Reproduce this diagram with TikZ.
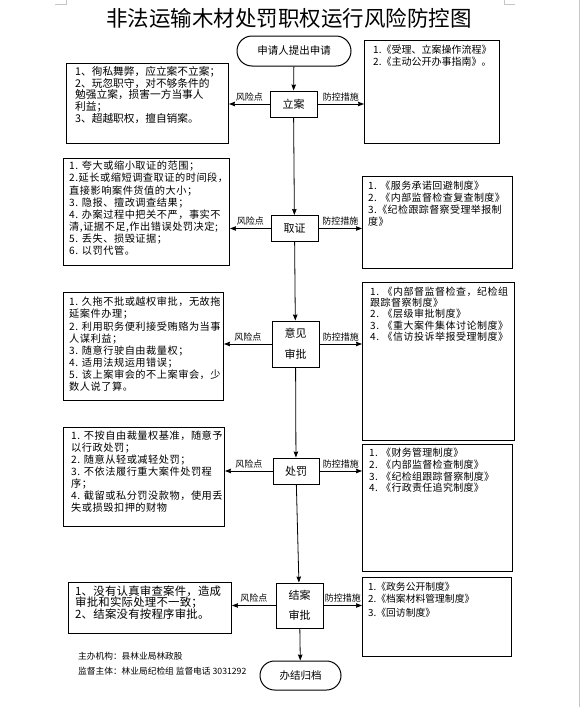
\documentclass[tikz,border=0pt]{standalone}
\usepackage{fontspec}
\setmainfont{Noto Sans CJK SC}
\usetikzlibrary{%
  arrows.meta,%
  shapes.misc%
}

\begin{document}
\begin{tikzpicture}[x=1pt,y=-1pt,
    flow/.style={draw,line width=1pt,minimum width=47pt,minimum height=26pt,
      inner sep=1pt,align=center,font=\fontsize{11}{20.5}\selectfont},
    term/.style={draw,line width=1pt,rounded rectangle,inner sep=1pt,
      font=\fontsize{10.5}{12}\selectfont},
    frame/.style={draw,line width=1pt,anchor=north west,inner sep=0pt},
    note/.style={anchor=north west,align=left,inner sep=0pt},
    spread/.style={execute at begin node={\addfontfeature{LetterSpace=#1}}},
    link/.style={-{Stealth[length=6pt,width=4.5pt,inset=0.6pt]},line width=0.8pt},
    tag/.style={above,inner sep=2.5pt,font=\fontsize{9}{9}\selectfont}
  ]
  \useasboundingbox (0,0) rectangle (583,707);
  % page marks
  \begin{scope}[gray!45,line width=0.8pt]
    \draw (579,0) -- (579,707);
    \draw (55,4) -- (66,4) -- (66,0);
    \draw (504,0) -- (504,4) -- (515,4);
  \end{scope}

  \node [font=\fontsize{21.5}{22}\selectfont] (title) at (289,18)
    {非法运输木材处罚职权运行风险防控图};

  % main flow
  \node [term,minimum width=116pt,minimum height=30pt] (start) at (294,51) {申请人提出申请};
  \node [flow] (lian) at (293.5,104) {立案};
  \node [flow] (quzheng) at (294.5,228.5) {取证};
  \node [flow,minimum height=46pt] (shenpi) at (295.5,344) {意见\\审批};
  \node [flow,minimum width=46pt] (chufa) at (296,471) {处罚};
  \node [flow,minimum height=45pt] (jiean) at (299.5,605.5) {结案\\审批};
  \node [term,minimum width=83pt,minimum height=29pt] (end) at (300.5,675.5) {办结归档};

  \draw [link] (start) -- (lian);
  \draw [link] (lian) -- (quzheng);
  \draw [link] (quzheng) -- (shenpi);
  \draw [link] (shenpi) -- (chufa);
  \draw [link] (chufa) -- (jiean);
  \draw [link] (jiean) -- (end);

  % risk points
  \node [frame,minimum width=162pt,minimum height=80pt] (risk1) at (66,63) {};
  \node [note,font=\fontsize{10.7}{11.6}\selectfont] (risk1t) at (75,66.5)
    {1、徇私舞弊，应立案不立案；\\
     2、玩忽职守，对不够条件的\\
     勉强立案，损害一方当事人\\
     利益；\\
     3、超越职权，擅自销案。};

  \node [frame,minimum width=166pt,minimum height=107pt] (risk2) at (63,158) {};
  \node [note,spread=5,font=\fontsize{10.2}{12.1}\selectfont] (risk2t) at (69,161)
    {1. 夸大或缩小取证的范围；\\
     2.延长或缩短调查取证的时间段，\\
     直接影响案件货值的大小；\\
     3. 隐报、擅改调查结果；\\
     4. 办案过程中把关不严，事实不\\
     清,证据不足,作出错误处罚决定;\\
     5. 丢失、损毁证据；\\
     6. 以罚代管。};

  \node [frame,minimum width=160pt,minimum height=108pt] (risk3) at (63,292) {};
  \node [note,spread=5,font=\fontsize{10.2}{12.1}\selectfont] (risk3t) at (69,297)
    {1. 久拖不批或越权审批，无故拖\\
     延案件办理；\\
     2. 利用职务便利接受贿赂为当事\\
     人谋利益；\\
     3. 随意行驶自由裁量权；\\
     4. 适用法规运用错误；\\
     5. 该上案审会的不上案审会，少\\
     数人说了算。};

  \node [frame,minimum width=161pt,minimum height=99pt] (risk4) at (63,427) {};
  \node [note,spread=5,font=\fontsize{10.2}{12}\selectfont] (risk4t) at (71,431)
    {1. 不按自由裁量权基准，随意予\\
     以行政处罚；\\
     2. 随意从轻或减轻处罚；\\
     3. 不依法履行重大案件处罚程\\
     序；\\
     4. 截留或私分罚没款物，使用丢\\
     失或损毁扣押的财物};

  \node [frame,minimum width=163pt,minimum height=51pt] (risk5) at (68,582) {};
  \node [note,spread=2,font=\fontsize{11.4}{11.5}\selectfont] (risk5t) at (75,585.5)
    {1、没有认真审查案件，造成\\
     审批和实际处理不一致；\\
     2、结案没有按程序审批。};

  % control measures
  \node [frame,minimum width=135pt,minimum height=103pt] (guard1) at (364,40) {};
  \node [note,font=\fontsize{10}{12}\selectfont] (guard1t) at (373,45)
    {1.《受理、立案操作流程》\\
     2.《主动公开办事指南》。};

  \node [frame,minimum width=150pt,minimum height=92pt] (guard2) at (362,176) {};
  \node [note,spread=4,font=\fontsize{10}{12}\selectfont] (guard2t) at (368,181)
    {1. 《服务承诺回避制度》\\
     2. 《内部监督检查复查制度》\\
     3.《纪检跟踪督察受理举报制\\
     度》};

  \node [frame,minimum width=152pt,minimum height=158pt] (guard3) at (362,282) {};
  \node [note,spread=5,font=\fontsize{10}{11.4}\selectfont] (guard3t) at (370,286.5)
    {1. 《内部督监督检查，纪检组\\
     跟踪督察制度》\\
     2. 《层级审批制度》\\
     3. 《重大案件集体讨论制度》\\
     4. 《信访投诉举报受理制度》};

  \node [frame,minimum width=150pt,minimum height=127pt] (guard4) at (362,444) {};
  \node [note,spread=3,font=\fontsize{10}{11.7}\selectfont] (guard4t) at (369,448)
    {1. 《财务管理制度》\\
     2. 《内部监督检查制度》\\
     3. 《纪检组跟踪督察制度》\\
     4. 《行政责任追究制度》};

  \node [frame,minimum width=149pt,minimum height=79pt] (guard5) at (362,577) {};
  \node [note,font=\fontsize{9.8}{11.6}\selectfont] (guard5t) at (368,582)
    {1.《政务公开制度》\\
     2.《档案材料管理制度》\\[2.6pt]
     3.《回访制度》};

  % side connectors
  \foreach \step/\idx in {lian/1,quzheng/2,shenpi/3,chufa/4,jiean/5} {
    \draw [link] (\step.west) -- (\step.west -| risk\idx.east)
      node [tag,midway] {风险点};
    \draw [link] (\step.east) -- (\step.east -| guard\idx.west)
      node [tag,midway] {防控措施};
  }

  \node [note,font=\fontsize{8.7}{15}\selectfont] (footer) at (78,652)
    {主办机构：县林业局林政股\\
     监督主体：林业局纪检组 监督电话 3031292};
\end{tikzpicture}
\end{document}
